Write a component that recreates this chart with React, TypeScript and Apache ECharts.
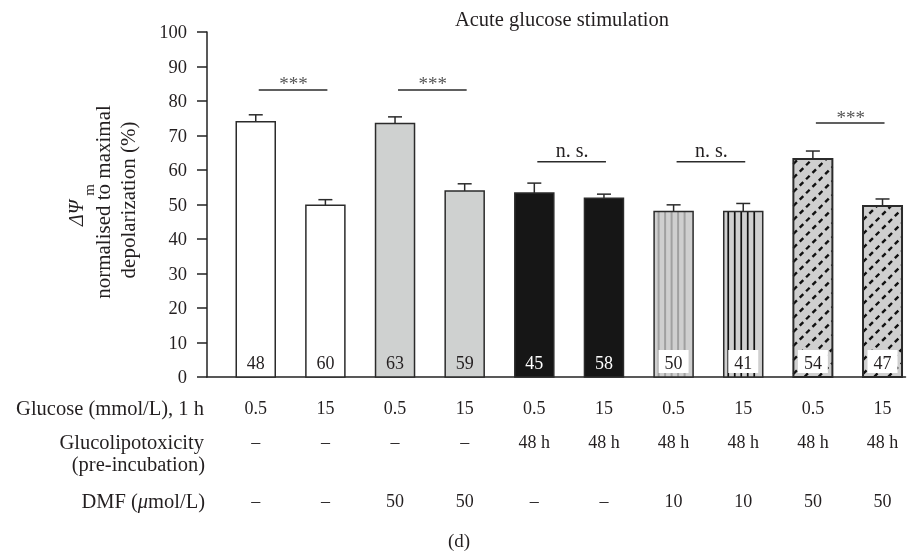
import React, { useEffect, useRef } from "react";
import * as echarts from "echarts";

const glucoseRow = ["0.5", "15", "0.5", "15", "0.5", "15", "0.5", "15", "0.5", "15"];
const glucolipoRow = ["–", "–", "–", "–", "48 h", "48 h", "48 h", "48 h", "48 h", "48 h"];
const dmfRow = ["–", "–", "50", "50", "–", "–", "10", "10", "50", "50"];
const means = [74.0, 49.8, 73.5, 53.9, 53.3, 51.8, 48.0, 48.0, 63.2, 49.6];
const errors = [2.0, 1.6, 1.9, 2.1, 2.9, 1.2, 1.9, 2.3, 2.3, 2.0];
const counts = [48, 60, 63, 59, 45, 58, 50, 41, 54, 47];
const yTicks = [0, 10, 20, 30, 40, 50, 60, 70, 80, 90, 100];
const sigPairs = [[0, 1], [2, 3], [4, 5], [6, 7], [8, 9]];
const sigLevels = [83.2, 83.2, 62.4, 62.4, 73.6];
const sigLabels = ["***", "***", "n. s.", "n. s.", "***"];

// styles (per bar)
const barStyles = ["white", "white", "gray", "gray", "black", "black", "vgray", "vblack", "diag", "diag"];

const FONT = "'Liberation Serif', 'DejaVu Serif', 'Times New Roman', serif";
const TXT = "#231f20";
const X_MIN = -0.7;
const X_MAX = 9.33;
const BAR_W = 39;

function rowAxis(labels: string[], offset: number) {
  return {
    type: "value",
    min: X_MIN,
    max: X_MAX,
    position: "bottom",
    offset,
    axisLine: { show: false, onZero: false },
    axisTick: { show: false },
    splitLine: { show: false },
    axisLabel: {
      show: true,
      customValues: labels.map((_, i) => i),
      formatter: (v: number) => labels[Math.round(v)] ?? "",
      margin: 0,
      fontSize: 18,
      fontFamily: FONT,
      color: TXT,
    },
  };
}

export default function App() {
  const ref = useRef<HTMLDivElement>(null);
  useEffect(() => {
    if (!ref.current) return;
    const chart = echarts.init(ref.current, undefined, { renderer: "svg" });

    const renderBar = (params: any, api: any) => {
      const i = api.value(0);
      const v = api.value(1);
      const e = api.value(2);
      const n = api.value(3);
      const kind = barStyles[params.dataIndex];
      const base = api.coord([i, 0]);
      const top = api.coord([i, v]);
      const errTop = api.coord([i, v + e]);
      const cx = base[0];
      const x0 = cx - BAR_W / 2;
      const y0 = top[1];
      const h = base[1] - top[1];
      const children: any[] = [];
      let fill = "#ffffff";
      if (kind === "gray") fill = "#cfd1d0";
      else if (kind === "black") fill = "#161616";
      else if (kind === "vgray" || kind === "vblack" || kind === "diag") fill = "#cfcfcf";
      children.push({ type: "rect", shape: { x: x0, y: y0, width: BAR_W, height: h }, style: { fill, stroke: "none" } });
      if (kind === "vgray" || kind === "vblack") {
        const col = kind === "vgray" ? "#a0a0a0" : "#111111";
        const lw = kind === "vgray" ? 2 : 1.7;
        for (let x = x0 + 4.5; x < x0 + BAR_W - 2; x += 6.5) {
          children.push({ type: "line", shape: { x1: x, y1: y0, x2: x, y2: base[1] }, style: { stroke: col, lineWidth: lw } });
        }
      }
      if (kind === "diag") {
        const step = 14;
        for (let c = base[1] + BAR_W; c > y0 - 1; c -= step) {
          const t0 = Math.max(0, c - y0 - h);
          const t1 = Math.min(BAR_W, c - y0);
          if (t1 - t0 > 1) {
            children.push({
              type: "line",
              shape: { x1: x0 + t0, y1: c - t0, x2: x0 + t1, y2: c - t1 },
              style: { stroke: "#111111", lineWidth: 2.4, lineDash: [5, 4] },
            });
          }
        }
      }
      const dashedBorder = kind === "diag";
      children.push({
        type: "rect",
        shape: { x: x0, y: y0, width: BAR_W, height: h },
        style: { fill: "none", stroke: "#2b2b2b", lineWidth: dashedBorder ? 2 : 1.5 },
      });
      // error bar
      children.push({ type: "line", shape: { x1: cx, y1: y0, x2: cx, y2: errTop[1] }, style: { stroke: "#2b2b2b", lineWidth: 1.5 } });
      children.push({ type: "line", shape: { x1: cx - 7, y1: errTop[1], x2: cx + 7, y2: errTop[1] }, style: { stroke: "#2b2b2b", lineWidth: 1.5 } });
      // count label
      const boxed = kind === "vgray" || kind === "vblack" || kind === "diag";
      if (boxed) {
        children.push({ type: "rect", shape: { x: cx - 15, y: base[1] - 27, width: 30, height: 23 }, style: { fill: "#ffffff", stroke: "none" } });
      }
      children.push({
        type: "text",
        x: cx,
        y: base[1] - 14,
        style: {
          text: String(n),
          fill: kind === "black" ? "#ffffff" : TXT,
          fontSize: 18,
          fontFamily: FONT,
          align: "center",
          verticalAlign: "middle",
        },
      });
      return { type: "group", children };
    };

    const renderSig = (params: any, api: any) => {
      const a = api.coord([api.value(0), api.value(2)]);
      const b = api.coord([api.value(1), api.value(2)]);
      const label = sigLabels[params.dataIndex];
      const star = label === "***";
      return {
        type: "group",
        children: [
          { type: "line", shape: { x1: a[0] + 3, y1: a[1], x2: b[0] + 2, y2: b[1] }, style: { stroke: "#2b2b2b", lineWidth: 1.5 } },
          {
            type: "text",
            x: (a[0] + b[0]) / 2 + 3,
            y: star ? a[1] - 6 : a[1] - 12,
            style: {
              text: label,
              fill: star ? "#555555" : TXT,
              fontSize: star ? 19 : 20,
              fontFamily: FONT,
              align: "center",
              verticalAlign: "middle",
            },
          },
        ],
      };
    };

    const option: any = {
      animation: false,
      grid: { left: 207, right: 10.5, top: 32, bottom: 175 },
      xAxis: [
        {
          type: "value",
          min: X_MIN,
          max: X_MAX,
          position: "bottom",
          axisLine: { show: true, onZero: false, lineStyle: { color: "#222", width: 1.5 } },
          axisTick: { show: false },
          axisLabel: { show: false },
          splitLine: { show: false },
        },
        rowAxis(glucoseRow, 22),
        rowAxis(glucolipoRow, 56),
        rowAxis(dmfRow, 115),
      ],
      yAxis: {
        type: "value",
        min: 0,
        max: 100,
        interval: 10,
        axisLine: { show: true, onZero: false, lineStyle: { color: "#222", width: 1.5 } },
        axisTick: { show: true, length: 10, lineStyle: { color: "#222", width: 1.5 } },
        axisLabel: {
          fontSize: 18.5,
          margin: 20,
          color: TXT,
          fontFamily: FONT,
          formatter: (v: number) => (yTicks.includes(v) ? String(v) : ""),
        },
        splitLine: { show: false },
      },
      series: [
        {
          type: "custom",
          renderItem: renderBar,
          data: means.map((m, i) => [i, m, errors[i], counts[i]]),
          encode: { x: 0, y: 1 },
          clip: false,
          z: 3,
        },
        {
          type: "custom",
          renderItem: renderSig,
          data: sigPairs.map((p, k) => [p[0], p[1], sigLevels[k]]),
          encode: { x: [0, 1], y: 2 },
          clip: false,
          z: 3,
        },
      ],
      graphic: [
        { type: "text", x: 562, y: 19, style: { text: "Acute glucose stimulation", fontSize: 20.5, fontFamily: FONT, fill: TXT, align: "center", verticalAlign: "middle" } },
        { type: "text", x: 76, y: 213, rotation: Math.PI / 2, style: { text: "ΔΨ", fontSize: 20, fontStyle: "italic", fontFamily: FONT, fill: TXT, align: "center", verticalAlign: "middle" } },
        { type: "text", x: 89, y: 190, rotation: Math.PI / 2, style: { text: "m", fontSize: 15, fontFamily: FONT, fill: TXT, align: "center", verticalAlign: "middle" } },
        { type: "text", x: 103, y: 202, rotation: Math.PI / 2, style: { text: "normalised to maximal", fontSize: 21, fontFamily: FONT, fill: TXT, align: "center", verticalAlign: "middle" } },
        { type: "text", x: 128, y: 200, rotation: Math.PI / 2, style: { text: "depolarization (%)", fontSize: 21, fontFamily: FONT, fill: TXT, align: "center", verticalAlign: "middle" } },
        { type: "text", x: 204, y: 408, style: { text: "Glucose (mmol/L), 1 h", fontSize: 20.5, fontFamily: FONT, fill: TXT, align: "right", verticalAlign: "middle" } },
        { type: "text", x: 204, y: 442, style: { text: "Glucolipotoxicity", fontSize: 20.5, fontFamily: FONT, fill: TXT, align: "right", verticalAlign: "middle" } },
        { type: "text", x: 205, y: 464, style: { text: "(pre-incubation)", fontSize: 20.5, fontFamily: FONT, fill: TXT, align: "right", verticalAlign: "middle" } },
        {
          type: "text",
          x: 205,
          y: 501,
          style: {
            text: "DMF ({i|μ}mol/L)",
            rich: { i: { fontStyle: "italic", fontSize: 20.5, fontFamily: FONT, fill: TXT } },
            fontSize: 20.5,
            fontFamily: FONT,
            fill: TXT,
            align: "right",
            verticalAlign: "middle",
          },
        },
        { type: "text", x: 459, y: 540, style: { text: "(d)", fontSize: 19, fontFamily: FONT, fill: TXT, align: "center", verticalAlign: "middle" } },
      ],
    };
    chart.setOption(option);
    return () => chart.dispose();
  }, []);
  return <div ref={ref} style={{ position: "fixed", left: 0, top: 0, width: 916, height: 552 }} />;
}
